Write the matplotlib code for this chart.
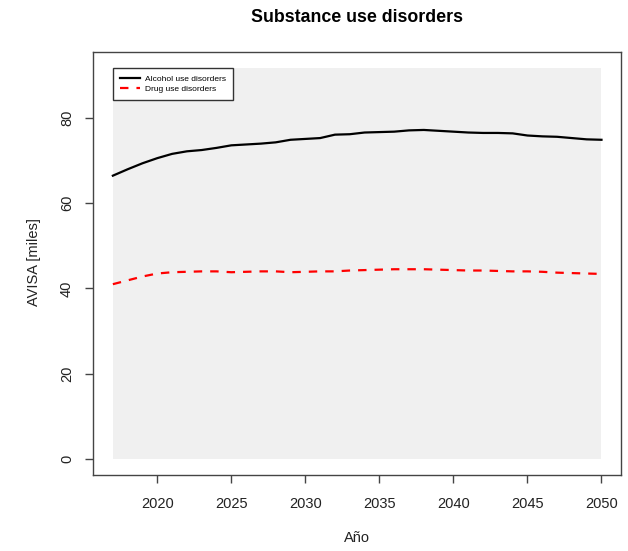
import matplotlib
matplotlib.use("Agg")
import matplotlib.pyplot as plt
from matplotlib.patches import Rectangle

plt.rcParams['font.family'] = ['Liberation Sans', 'DejaVu Sans']

years = list(range(2017, 2051))
alcohol = [66.4, 67.9, 69.3, 70.5, 71.5, 72.1, 72.4, 72.9, 73.5, 73.7,
           73.9, 74.2, 74.8, 75.0, 75.2, 76.0, 76.1, 76.5, 76.6, 76.7,
           77.0, 77.1, 76.9, 76.7, 76.5, 76.4, 76.4, 76.3, 75.8, 75.6,
           75.5, 75.2, 74.9, 74.8]
drug = [41.0, 41.9, 42.8, 43.5, 43.8, 43.9, 44.0, 44.0, 43.8, 43.9,
        44.0, 44.0, 43.8, 43.9, 44.0, 44.0, 44.2, 44.3, 44.4, 44.5,
        44.5, 44.5, 44.4, 44.3, 44.2, 44.2, 44.1, 44.0, 44.0, 43.9,
        43.7, 43.6, 43.5, 43.4]
series_names = ["Alcohol use disorders", "Drug use disorders"]
x_ticks = [2020, 2025, 2030, 2035, 2040, 2045, 2050]
y_ticks = [0, 20, 40, 60, 80]
title = "Substance use disorders"
xlabel = "Año"
ylabel = "AVISA [miles]"

ymax = 91.6
fig = plt.figure(figsize=(6.28, 5.51), dpi=100)
ax = fig.add_axes([0.1486, 0.1379, 0.8403, 0.7671])

xr = years[-1] - years[0]
ax.set_xlim(years[0] - 0.04 * xr, years[-1] + 0.04 * xr)
ax.set_ylim(-0.04 * ymax, ymax * 1.04)

ax.add_patch(Rectangle((years[0], 0), years[-1] - years[0], ymax,
                       facecolor="#f0f0f0", edgecolor="none", zorder=0))

ax.plot(years, alcohol, color="black", lw=1.6, label=series_names[0], zorder=3)
l2, = ax.plot(years, drug, color="red", lw=1.6, label=series_names[1], zorder=3)
l2.set_dashes([3.8, 3.6])

ax.set_xticks(x_ticks)
ax.set_yticks(y_ticks)
ax.set_xticklabels([str(t) for t in x_ticks])
ax.set_yticklabels([str(t) for t in y_ticks], rotation=90, va="center")
ax.tick_params(axis="both", direction="out", length=5.8, width=1,
               color="#444444", labelsize=10.5, labelcolor="#222222")
ax.tick_params(axis="x", pad=9.8)
ax.tick_params(axis="y", pad=8.1)
for s in ax.spines.values():
    s.set_color("#444444")
    s.set_linewidth(1)

ax.set_xlabel(xlabel, fontsize=10.5, color="#222222", va="center")
ax.set_ylabel(ylabel, fontsize=10.5, color="#222222", va="center")
ax.xaxis.set_label_coords(0.4997, (475 - 538) / 422.7)
ax.yaxis.set_label_coords((34 - 93.3) / 527.7, 0.503)

fig.text(0.5686, 1 - 17 / 551, title, ha="center", va="center",
         fontsize=12.8, fontweight="bold")

leg = ax.legend(loc="upper left", bbox_to_anchor=(0.0379, 0.962),
                borderaxespad=0, fontsize=6, frameon=True, fancybox=False,
                edgecolor="#333333", framealpha=1, handlelength=2.4,
                handletextpad=0.6, borderpad=0.8, labelspacing=0.3)
leg.get_frame().set_linewidth(1)

fig.savefig("out.png", dpi=100)
